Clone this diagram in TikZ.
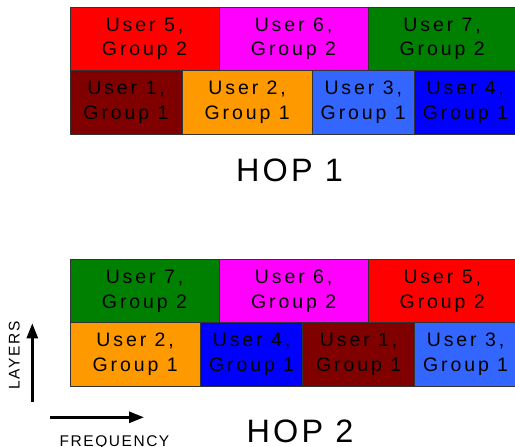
\documentclass[tikz,border=0pt]{standalone}
\usepackage{fontspec}
\setmainfont{Liberation Sans}
\newfontfamily\cellfont[LetterSpace=15]{Liberation Sans}
\newfontfamily\hopfont[LetterSpace=10]{Liberation Sans}
\usepackage{tikz}
\usetikzlibrary{arrows.meta}
\definecolor{user1}{HTML}{800000}
\definecolor{user2}{HTML}{FF9900}
\definecolor{user3}{HTML}{3366FF}
\definecolor{user4}{HTML}{0000FF}
\definecolor{user5}{HTML}{FF0000}
\definecolor{user6}{HTML}{FF00FF}
\definecolor{user7}{HTML}{008000}

\begin{document}
\begin{tikzpicture}
  [x=1pt, y=-1pt,
   cell/.style={draw=black!80, line width=0.8pt, anchor=north west, inner sep=0pt,
                minimum height=63.5pt, align=center,
                font=\cellfont\fontsize{19.5}{24.5}\selectfont},
   hop/.style={anchor=base, inner sep=0pt, font=\hopfont\fontsize{32.4}{36}\selectfont},
   axis/.style={line width=2.7pt, -{Triangle[length=15pt,width=11pt]}},
   axislabel/.style={inner sep=0pt, font=\hopfont\fontsize{15.5}{18}\selectfont}]

  \useasboundingbox (0,0) rectangle (515,447);

  %Hop 1, group 2 layer
  \foreach \x/\w/\u in {69.5/149.2/5, 218.7/148.8/6, 367.5/148.5/7} {
    \draw node[cell, fill=user\u, minimum width=\w pt] at (\x,6.7) (A\u) {User \u,\\Group 2};
  }
  %Hop 1, group 1 layer
  \foreach \x/\w/\u in {69.5/112.2/1, 181.7/130/2, 311.7/102.3/3, 414/102/4} {
    \draw node[cell, fill=user\u, minimum width=\w pt] at (\x,70.2) (B\u) {User \u,\\Group 1};
  }
  \node[hop] (hop1) at (289.5,181.7) {HOP 1};

  %Hop 2, group 2 layer
  \foreach \x/\w/\u in {69.5/149.2/7, 218.7/149/6, 367.7/148.3/5} {
    \draw node[cell, fill=user\u, minimum width=\w pt] at (\x,259.3) (C\u) {User \u,\\Group 2};
  }
  %Hop 2, group 1 layer
  \foreach \x/\w/\u in {69.5/130.5/2, 200/102.3/4, 302.3/112/1, 414.3/101.7/3} {
    \draw node[cell, fill=user\u, minimum width=\w pt] at (\x,322.2) (D\u) {User \u,\\Group 1};
  }
  \node[hop] (hop2) at (300,442.3) {HOP 2};

  %Axes
  \coordinate (lay0) at (32.3,401.7);
  \coordinate (lay1) at (32.3,323.3);
  \coordinate (freq0) at (50,417.3);
  \coordinate (freq1) at (144,417.3);
  \draw[axis] (lay0) -- (lay1);
  \draw[axis] (freq0) -- (freq1);
  \node[axislabel, rotate=90] (layers) at (14.2,355.5) {LAYERS};
  \node[axislabel, anchor=base] (frequency) at (114.5,446.5) {FREQUENCY};
\end{tikzpicture}
\end{document}
